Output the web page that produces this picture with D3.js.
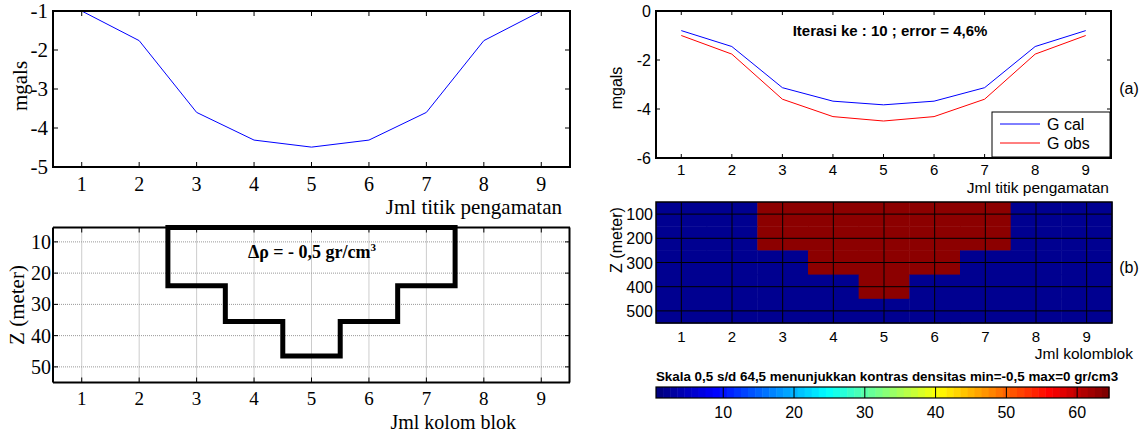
<!DOCTYPE html>
<html><head><meta charset="utf-8">
<script src="https://cdn.jsdelivr.net/npm/d3@7"></script>
<style>body{margin:0;background:#fff}svg{display:block}</style>
</head><body>
<svg id="c" width="1146" height="432"></svg>
<script>
const points = [1,2,3,4,5,6,7,8,9];
const gObs = [-1.0,-1.76,-3.6,-4.31,-4.49,-4.31,-3.6,-1.76,-1.0];
const gCal = [-0.8,-1.45,-3.13,-3.68,-3.83,-3.68,-3.13,-1.45,-0.8];
const yTicksTopLeft = [-1,-2,-3,-4,-5];
const yTicksTopRight = [0,-2,-4,-6];
const depthTicksLeft = [10,20,30,40,50];
const depthTicksRight = [100,200,300,400,500];
// body outline: [x-left, x-right] per step and its bottom depth (m)
const stepsX = [[2.5,7.5],[3.5,6.5],[4.5,5.5]];
const stepsDepth = [24,35.5,46.5];
const bodyTop = 5.4;
// model grid (rows: depth 100..500, cols 1..9): 1 = anomaly (red), 0 = background
const modelRows = [
  [0,0,1,1,1,1,1,0,0],
  [0,0,1,1,1,1,1,0,0],
  [0,0,0,1,1,1,0,0,0],
  [0,0,0,0,1,0,0,0,0],
  [0,0,0,0,0,0,0,0,0]
];
const colorbarTicks = [10,20,30,40,50,60];

const svg = d3.select("#c");
const serif = "'Liberation Serif', 'Times New Roman', serif";
const sans = "'Liberation Sans', Arial, sans-serif";

function innerTicks(g, xs, ys, x0, x1, y0, y1, len) {
  xs.forEach(v => {
    g.append("line").attr("x1",v).attr("x2",v).attr("y1",y1).attr("y2",y1-len).attr("stroke","#000");
    g.append("line").attr("x1",v).attr("x2",v).attr("y1",y0).attr("y2",y0+len).attr("stroke","#000");
  });
  ys.forEach(v => {
    g.append("line").attr("y1",v).attr("y2",v).attr("x1",x0).attr("x2",x0+len).attr("stroke","#000");
    g.append("line").attr("y1",v).attr("y2",v).attr("x1",x1).attr("x2",x1-len).attr("stroke","#000");
  });
}

// ---------- Top-left ----------
{
  const x = d3.scaleLinear().domain([0.5,9.5]).range([53,570]);
  const y = d3.scaleLinear().domain([-5,-1]).range([167,11]);
  const g = svg.append("g");
  g.append("path").datum(points.map((p,i)=>[p,gObs[i]]))
    .attr("d", d3.line().x(d=>x(d[0])).y(d=>y(d[1])))
    .attr("fill","none").attr("stroke","#0000ff").attr("stroke-width",1);
  g.append("rect").attr("x",53).attr("y",11).attr("width",517).attr("height",156)
    .attr("fill","none").attr("stroke","#000").attr("stroke-width",2);
  innerTicks(g, points.map(x), yTicksTopLeft.map(y), 53, 570, 11, 167, 5);
  g.selectAll(".yt").data(yTicksTopLeft).enter().append("text")
    .attr("x",48).attr("y",d=>y(d)+7).attr("text-anchor","end")
    .attr("font-family",serif).attr("font-size",21).text(d=>d);
  g.selectAll(".xt").data(points).enter().append("text")
    .attr("x",d=>x(d)).attr("y",191).attr("text-anchor","middle")
    .attr("font-family",serif).attr("font-size",20).text(d=>d);
  g.append("text").attr("transform","translate(27,86) rotate(-90)").attr("text-anchor","middle")
    .attr("font-family",serif).attr("font-size",21).text("mgals");
  g.append("text").attr("x",562).attr("y",214).attr("text-anchor","end")
    .attr("font-family",serif).attr("font-size",21).text("Jml titik pengamatan");
}

// ---------- Bottom-left ----------
{
  const x = d3.scaleLinear().domain([0.5,9.5]).range([53,570]);
  const y = d3.scaleLinear().domain([5.4,55]).range([227.5,382.5]);
  const g = svg.append("g");
  points.forEach(p => g.append("line").attr("x1",x(p)).attr("x2",x(p)).attr("y1",227.5).attr("y2",382.5)
    .attr("stroke","#999").attr("stroke-dasharray","1,1").attr("stroke-width",1));
  depthTicksLeft.forEach(d => g.append("line").attr("y1",y(d)).attr("y2",y(d)).attr("x1",53).attr("x2",570)
    .attr("stroke","#999").attr("stroke-dasharray","1,1").attr("stroke-width",1));
  g.append("line").attr("x1",53).attr("x2",570).attr("y1",227.5).attr("y2",227.5).attr("stroke","#000").attr("stroke-width",2);
  g.append("line").attr("x1",53).attr("x2",570).attr("y1",382.5).attr("y2",382.5).attr("stroke","#000").attr("stroke-width",2);
  g.append("line").attr("x1",53).attr("x2",53).attr("y1",227.5).attr("y2",382.5).attr("stroke","#000").attr("stroke-width",2);
  g.append("line").attr("x1",569.5).attr("x2",569.5).attr("y1",227.5).attr("y2",382.5).attr("stroke","#000").attr("stroke-width",2);
  innerTicks(g, points.map(x), depthTicksLeft.map(y), 53, 570, 227.5, 382.5, 5);
  const outline = [[stepsX[0][0],bodyTop]];
  for (let i=0;i<stepsX.length;i++){
    outline.push([stepsX[i][0], stepsDepth[i]]);
    if (i+1<stepsX.length) outline.push([stepsX[i+1][0], stepsDepth[i]]);
  }
  for (let i=stepsX.length-1;i>=0;i--){
    if (i+1<stepsX.length) outline.push([stepsX[i+1][1], stepsDepth[i]]);
    else outline.push([stepsX[i][1], stepsDepth[i]]);
    if (i+1<stepsX.length) outline.push([stepsX[i][1], stepsDepth[i]]);
  }
  outline.push([stepsX[0][1], bodyTop]);
  g.append("path").datum(outline)
    .attr("d", d3.line().x(d=>x(d[0])).y(d=>y(d[1])).curve(d3.curveLinearClosed))
    .attr("fill","none").attr("stroke","#000").attr("stroke-width",5).attr("stroke-linejoin","miter");
  g.append("text").attr("x",312).attr("y",258).attr("text-anchor","middle")
    .attr("font-family",serif).attr("font-size",18).attr("font-weight","bold")
    .html("Δρ = - 0,5 gr/cm<tspan dy='-7' font-size='11'>3</tspan>");
  g.selectAll(".yt").data(depthTicksLeft).enter().append("text")
    .attr("x",51).attr("y",d=>y(d)+7).attr("text-anchor","end")
    .attr("font-family",serif).attr("font-size",20).text(d=>d);
  g.selectAll(".xt").data(points).enter().append("text")
    .attr("x",d=>x(d)).attr("y",405).attr("text-anchor","middle")
    .attr("font-family",serif).attr("font-size",19).text(d=>d);
  g.append("text").attr("transform","translate(24,305) rotate(-90)").attr("text-anchor","middle")
    .attr("font-family",serif).attr("font-size",21).text("Z (meter)");
  g.append("text").attr("x",516).attr("y",429).attr("text-anchor","end")
    .attr("font-family",serif).attr("font-size",20).text("Jml kolom blok");
}

// ---------- Top-right ----------
{
  const x = d3.scaleLinear().domain([0.5,9.5]).range([656,1111]);
  const y = d3.scaleLinear().domain([-6,0]).range([158,11]);
  const g = svg.append("g");
  const line = d3.line().x(d=>x(d[0])).y(d=>y(d[1]));
  g.append("path").datum(points.map((p,i)=>[p,gCal[i]])).attr("d",line)
    .attr("fill","none").attr("stroke","#0000ff").attr("stroke-width",1);
  g.append("path").datum(points.map((p,i)=>[p,gObs[i]])).attr("d",line)
    .attr("fill","none").attr("stroke","#ff0000").attr("stroke-width",1);
  g.append("rect").attr("x",656).attr("y",11).attr("width",455).attr("height",147)
    .attr("fill","none").attr("stroke","#000").attr("stroke-width",2);
  innerTicks(g, points.map(x), yTicksTopRight.map(y), 656, 1111, 11, 158, 4);
  g.selectAll(".yt").data(yTicksTopRight).enter().append("text")
    .attr("x",651).attr("y",d=>y(d)+6).attr("text-anchor","end")
    .attr("font-family",sans).attr("font-size",16).text(d=>d);
  g.selectAll(".xt").data(points).enter().append("text")
    .attr("x",d=>x(d)).attr("y",175).attr("text-anchor","middle")
    .attr("font-family",sans).attr("font-size",15).text(d=>d);
  g.append("text").attr("transform","translate(622,88) rotate(-90)").attr("text-anchor","middle")
    .attr("font-family",sans).attr("font-size",16).text("mgals");
  g.append("text").attr("x",1109).attr("y",193).attr("text-anchor","end")
    .attr("font-family",sans).attr("font-size",15.5).text("Jml titik pengamatan");
  g.append("text").attr("x",1129).attr("y",94).attr("text-anchor","middle")
    .attr("font-family",sans).attr("font-size",16).text("(a)");
  g.append("text").attr("x",890).attr("y",36).attr("text-anchor","middle")
    .attr("font-family",sans).attr("font-size",15).attr("font-weight","bold")
    .text("Iterasi ke : 10 ; error = 4,6%");
  const lg = g.append("g");
  lg.append("rect").attr("x",992).attr("y",112).attr("width",118).attr("height",45)
    .attr("fill","#fff").attr("stroke","#000").attr("stroke-width",1);
  [["G cal","#0000ff",124],["G obs","#ff0000",143]].forEach(([t,c,yy])=>{
    lg.append("line").attr("x1",1000).attr("x2",1040).attr("y1",yy).attr("y2",yy).attr("stroke",c);
    lg.append("text").attr("x",1047).attr("y",yy+6).attr("font-family",sans).attr("font-size",16).text(t);
  });
}

// ---------- Bottom-right heatmap ----------
{
  const x = d3.scaleLinear().domain([0.5,9.5]).range([656,1112]);
  const y = d3.scaleLinear().domain([50,550]).range([202,323]);
  const g = svg.append("g");
  modelRows.forEach((row,ri)=>{
    row.forEach((v,ci)=>{
      const c = points[ci], d = depthTicksRight[ri];
      g.append("rect").attr("x",x(c-0.5)).attr("y",y(d-50))
        .attr("width",x(c+0.5)-x(c-0.5)+0.5).attr("height",y(d+50)-y(d-50)+0.5)
        .attr("fill", v ? "#8c0000" : "#000090");
    });
  });
  points.forEach(p => g.append("line").attr("x1",x(p)).attr("x2",x(p)).attr("y1",202).attr("y2",323).attr("stroke","#000"));
  depthTicksRight.forEach(d => g.append("line").attr("y1",y(d)).attr("y2",y(d)).attr("x1",656).attr("x2",1112).attr("stroke","#000"));
  g.append("rect").attr("x",656).attr("y",202).attr("width",456).attr("height",121)
    .attr("fill","none").attr("stroke","#000").attr("stroke-width",1.5);
  g.selectAll(".yt").data(depthTicksRight).enter().append("text")
    .attr("x",653).attr("y",d=>y(d)+6).attr("text-anchor","end")
    .attr("font-family",sans).attr("font-size",16).text(d=>d);
  g.selectAll(".xt").data(points).enter().append("text")
    .attr("x",d=>x(d)).attr("y",342).attr("text-anchor","middle")
    .attr("font-family",sans).attr("font-size",15).text(d=>d);
  g.append("text").attr("transform","translate(622,240) rotate(-90)").attr("text-anchor","middle")
    .attr("font-family",sans).attr("font-size",16).text("Z (meter)");
  g.append("text").attr("x",1133).attr("y",359).attr("text-anchor","end")
    .attr("font-family",sans).attr("font-size",15.5).text("Jml kolomblok");
  g.append("text").attr("x",1129).attr("y",273).attr("text-anchor","middle")
    .attr("font-family",sans).attr("font-size",16).text("(b)");
}

// ---------- Colorbar ----------
{
  const x = d3.scaleLinear().domain([0.5,64.5]).range([656,1109]);
  const g = svg.append("g");
  function jet(t){
    const cl = v => Math.max(0, Math.min(1, v));
    return d3.rgb(255*cl(1.5-Math.abs(4*t-3)), 255*cl(1.5-Math.abs(4*t-2)), 255*cl(1.5-Math.abs(4*t-1)));
  }
  const idx = d3.range(1,65);
  g.selectAll(".cb").data(idx).enter().append("rect")
    .attr("x",d=>x(d-0.5)).attr("y",387).attr("width",d=>x(d+0.5)-x(d-0.5)+0.5).attr("height",11)
    .attr("fill",d=>jet((d-1)/63));
  g.append("rect").attr("x",656).attr("y",387).attr("width",453).attr("height",11)
    .attr("fill","none").attr("stroke","#000").attr("stroke-width",1.2);
  colorbarTicks.forEach(t=>{
    g.append("line").attr("x1",x(t)).attr("x2",x(t)).attr("y1",387).attr("y2",398).attr("stroke","#000").attr("stroke-width",1);
  });
  g.selectAll(".ct").data(colorbarTicks).enter().append("text")
    .attr("x",d=>x(d)).attr("y",418).attr("text-anchor","middle")
    .attr("font-family",sans).attr("font-size",16).text(d=>d);
  g.append("text").attr("x",887).attr("y",381).attr("text-anchor","middle")
    .attr("font-family",sans).attr("font-size",13.4).attr("font-weight","bold")
    .text("Skala 0,5 s/d 64,5 menunjukkan kontras densitas min=-0,5 max=0 gr/cm3");
}
</script>
</body></html>
